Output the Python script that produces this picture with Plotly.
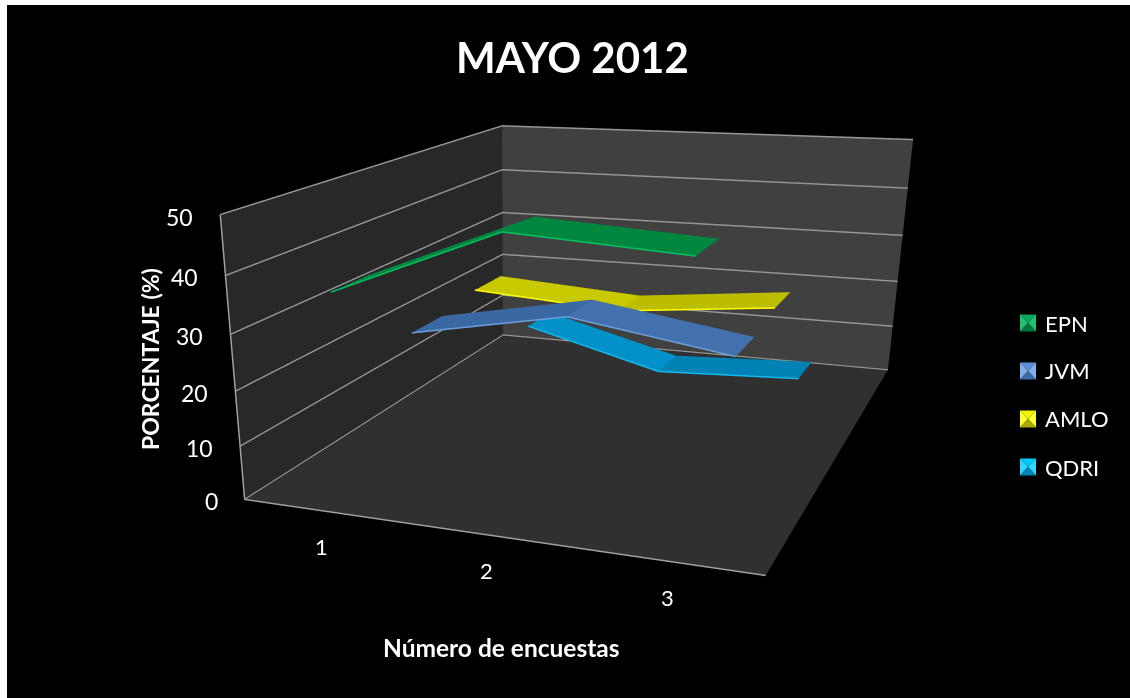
import plotly.graph_objects as go

encuestas=[1,2,3]
series_names=["EPN","JVM","AMLO","QDRI"]
epn=[36.7,48.5,46.7]; jvm=[22.3,27.9,23.4]; amlo=[23.9,22,25]; qdri=[9,1.3,2.7]
z_ticks=[0,10,20,30,40,50]

W0,H0=1123,1200
Ws=906
def px(x): return (x-7)/W0
def py(y): return 1-(y-5)/H0

fig=go.Figure()
values=[epn,jvm,amlo,qdri]
seg_colors=[["#00863f","#00863f"],["#3a68a2","#4371ad"],["#c9c900","#bdbd00"],["#0091c8","#0082b4"]]
edge=["#00c060","#6a9fdc","#ffff00","#10b8f0"]
for i,(name,v) in enumerate(zip(series_names,values)):
    yf,yb=i+0.25,i+0.71
    xs=[];ys=[];zs=[]
    for c_,val in zip(encuestas,v):
        xs+=[c_,c_]; ys+=[yf,yb]; zs+=[val,val]
    fig.add_trace(go.Mesh3d(x=xs,y=ys,z=zs,i=[0,0,2,2],j=[1,3,3,5],k=[3,2,5,4],
        facecolor=[seg_colors[i][0]]*2+[seg_colors[i][1]]*2,flatshading=True,
        lighting=dict(ambient=1,diffuse=0,specular=0,fresnel=0),hoverinfo="skip",name=name,showscale=False))
    fig.add_trace(go.Scatter3d(x=encuestas,y=[yf]*3,z=v,mode="lines",line=dict(color=edge[i],width=3),hoverinfo="skip",showlegend=False))

ax_common=dict(showspikes=False,title=dict(text=""),zeroline=False,showticklabels=False,ticks="")
scene_notes=[dict(x=0.5,y=0,z=t,text=str(t),showarrow=False,xanchor="right",yanchor="middle",xshift=-25,yshift=-2,
                  font=dict(family="Lato",size=23,color="white")) for t in z_ticks]
scene_notes+=[dict(x=c_,y=0,z=0,text=str(c_),showarrow=False,xanchor="center",yanchor="middle",yshift=-36,
                   font=dict(family="Lato",size=22,color="white")) for c_ in encuestas]

swatch=[("#0aa85a","#22c070","#00743a"),("#5b8fd8","#82aeea","#3d6aa8"),("#f0f000","#ffff30","#a8a800"),("#00c8f8","#30d8ff","#0084b4")]
legend_y=[323,371,419,467]
shapes=[];notes=[]
for name,cy_,(top,side,bot) in zip(series_names,legend_y,swatch):
    L,R,T,B=px(1020),px(1036),py(cy_-8.5),py(cy_+8.5)
    mx,my=(L+R)/2,(T+B)/2
    tri=[(top,[(L,T),(R,T),(mx,my)]),(side,[(L,T),(L,B),(mx,my)]),(side,[(R,T),(R,B),(mx,my)]),(bot,[(L,B),(R,B),(mx,my)])]
    for col,pp in tri:
        path="M"+" L".join(f"{a:.5f},{b:.5f}" for a,b in pp)+" Z"
        shapes.append(dict(type="path",path=path,xref="paper",yref="paper",fillcolor=col,line=dict(width=0)))
    notes.append(dict(text=name,x=px(1043),y=py(cy_),xref="paper",yref="paper",showarrow=False,xanchor="left",yanchor="middle",
                      font=dict(family="Lato",size=22,color="white")))

fig.update_layout(
    width=W0,height=H0,margin=dict(l=0,r=0,t=0,b=0),paper_bgcolor="black",showlegend=False,shapes=shapes,
    scene=dict(domain=dict(x=[0,Ws/W0],y=[0,1]),bgcolor="rgba(0,0,0,0)",annotations=scene_notes,dragmode="orbit",
        aspectmode="manual",aspectratio=dict(x=1,y=1.322,z=0.533),
        camera=dict(eye=dict(x=0.926,y=-2.870,z=0.706),center=dict(x=-0.236,y=-0.252,z=-0.621),up=dict(x=0.018,y=0.003,z=1),projection=dict(type="perspective")),
        xaxis=dict(range=[0.5,3.5],tickvals=encuestas,showgrid=False,showbackground=True,backgroundcolor="#282828",
            showline=True,linecolor="#a0a0a0",linewidth=3,**ax_common),
        yaxis=dict(range=[0,4],showgrid=False,showbackground=True,backgroundcolor="#404040",showline=False,**ax_common),
        zaxis=dict(range=[0,50],tickvals=z_ticks,showgrid=True,gridcolor="#969696",gridwidth=3,showbackground=True,backgroundcolor="#303030",
            showline=True,linecolor="#a0a0a0",linewidth=3,**ax_common)),
    annotations=notes+[
        dict(text="<b>MAYO 2012</b>",x=px(572),y=py(57),xref="paper",yref="paper",showarrow=False,xanchor="center",yanchor="middle",font=dict(family="Lato",size=42,color="white")),
        dict(text="<b>PORCENTAJE (%)</b>",x=px(150),y=py(359),xref="paper",yref="paper",showarrow=False,xanchor="center",yanchor="middle",textangle=-90,font=dict(family="Lato",size=23,color="white")),
        dict(text="<b>Número de encuestas</b>",x=px(501),y=py(647),xref="paper",yref="paper",showarrow=False,xanchor="center",yanchor="middle",font=dict(family="Lato",size=24.5,color="white")),
    ])
fig.write_html("out.html",post_script="document.body.style.margin='5px 0 0 7px';document.body.style.overflow='hidden';document.documentElement.style.overflow='hidden';")
